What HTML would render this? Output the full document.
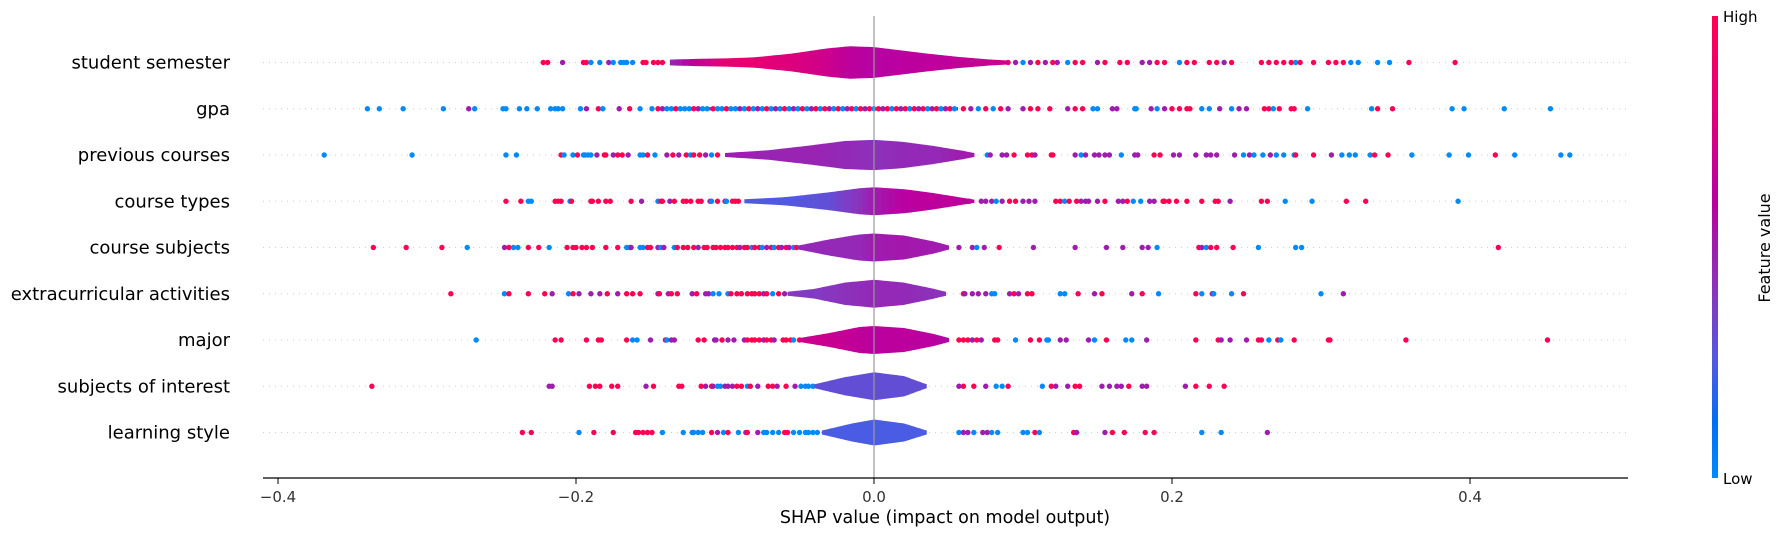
<!DOCTYPE html>
<html><head><meta charset="utf-8"><style>
html,body{margin:0;padding:0;background:#fff;}
svg{display:block;font-family:"DejaVu Sans","Liberation Sans",sans-serif;}
</style></head><body>
<svg id="chart" width="1785" height="536" viewBox="0 0 1785 536" xmlns="http://www.w3.org/2000/svg">
<defs>
<linearGradient id="cmap" x1="0" y1="1" x2="0" y2="0">
<stop offset="0" stop-color="rgb(0,138,251)"/>
<stop offset="0.12" stop-color="rgb(0,110,245)"/>
<stop offset="0.25" stop-color="rgb(80,90,225)"/>
<stop offset="0.4" stop-color="rgb(135,55,190)"/>
<stop offset="0.6" stop-color="rgb(185,0,160)"/>
<stop offset="0.8" stop-color="rgb(225,0,120)"/>
<stop offset="1" stop-color="rgb(255,0,82)"/>
</linearGradient>
</defs>
<g id="grid"></g>
<g id="dots"></g>
<g id="violins"></g>
<g id="dotsTop"></g>
<line x1="874" y1="16" x2="874" y2="478" stroke="#999" stroke-width="1.2"/>
<g id="labels"></g>
<line x1="263" y1="478" x2="1628" y2="478" stroke="#000" stroke-width="1.2"/>
<g id="xticks"></g>
<text x="945" y="523" font-size="17.5" text-anchor="middle" fill="#000">SHAP value (impact on model output)</text>
<rect x="1712" y="16" width="6" height="462" fill="url(#cmap)"/>
<text x="1723" y="22" font-size="15" fill="#000">High</text>
<text x="1723" y="484" font-size="15" fill="#000">Low</text>
<text x="1770" y="248" font-size="16" text-anchor="middle" fill="#000" transform="rotate(-90 1770 248)">Feature value</text>
</svg>
<script>
const features = ["student semester","gpa","previous courses","course types","course subjects","extracurricular activities","major","subjects of interest","learning style"];
const xTicks = [-0.4,-0.2,0.0,0.2,0.4];
const xTickLabels = ["\u22120.4","\u22120.2","0.0","0.2","0.4"];
const b=0,p=0.5,r=1;
const pts0 = [[-0.222,r],[-0.219,r],[-0.209,p],[-0.195,r],[-0.193,r],[-0.19,b],[-0.184,b],[-0.178,p],[-0.175,b],[-0.17,b],[-0.168,b],[-0.166,b],[-0.162,b],[-0.155,r],[-0.153,r],[-0.148,r],[-0.145,r],[-0.142,r],
[0.09,r],[0.095,p],[0.1,b],[0.105,p],[0.11,r],[0.115,p],[0.12,r],[0.123,p],[0.13,b],[0.135,r],[0.14,r],[0.15,p],[0.155,r],[0.165,r],[0.17,r],[0.18,p],[0.185,p],[0.19,r],[0.195,r],[0.205,b],[0.21,r],[0.215,r],[0.225,r],[0.23,r],[0.235,p],[0.24,r],[0.26,r],[0.265,r],[0.27,r],[0.275,r],[0.28,r],[0.283,b],[0.286,r],[0.295,r],[0.305,r],[0.31,r],[0.315,r],[0.32,b],[0.325,b],[0.338,b],[0.346,b],[0.359,r],[0.39,r]];
const pts1 = [[-0.34,b],[-0.332,b],[-0.316,b],[-0.289,b],[-0.272,p],[-0.268,b],[-0.249,b],[-0.247,b],[-0.238,b],[-0.233,b],[-0.226,b],[-0.217,b],[-0.214,b],[-0.212,b],[-0.209,b],[-0.197,b],[-0.193,p],[-0.185,r],[-0.182,b],[-0.171,p],[-0.164,r],[-0.157,b],[-0.149,b],
[-0.145,r],[-0.142,p],[-0.139,b],[-0.136,b],[-0.133,r],[-0.13,b],[-0.127,b],[-0.124,b],[-0.121,r],[-0.118,p],[-0.115,b],[-0.112,b],[-0.108,r],[-0.105,b],[-0.102,b],[-0.099,r],[-0.096,b],[-0.093,b],[-0.09,p],[-0.087,b],[-0.084,r],[-0.081,b],[-0.078,p],[-0.075,b],[-0.072,r],[-0.069,b],[-0.066,p],[-0.063,b],[-0.06,r],[-0.057,b],[-0.054,p],[-0.051,b],[-0.048,r],[-0.045,b],[-0.042,p],[-0.039,r],[-0.036,b],[-0.033,r],[-0.03,p],[-0.027,b],[-0.024,r],[-0.021,b],[-0.018,p],[-0.015,r],[-0.012,b],[-0.009,r],[-0.006,p],[-0.003,r],[0.0,b],[0.003,r],[0.006,p],[0.009,r],[0.012,b],[0.015,r],[0.018,p],[0.021,r],[0.024,b],[0.027,r],[0.03,p],[0.033,r],[0.036,b],[0.039,p],[0.042,r],[0.045,b],[0.048,p],[0.051,r],[0.054,b],
[0.06,r],[0.065,p],[0.07,b],[0.075,r],[0.08,b],[0.085,r],[0.09,p],[0.1,p],[0.105,r],[0.11,r],[0.118,r],[0.13,p],[0.135,r],[0.14,r],[0.147,b],[0.15,b],[0.16,p],[0.163,p],[0.175,b],[0.176,b],[0.186,p],[0.19,b],[0.195,p],[0.2,r],[0.205,r],[0.21,r],[0.212,r],[0.22,b],[0.225,b],[0.232,p],[0.24,b],[0.245,p],[0.25,p],[0.262,r],[0.265,r],[0.268,b],[0.272,r],[0.28,r],[0.282,r],[0.291,b],[0.334,b],[0.338,r],[0.348,r],[0.388,b],[0.396,b],[0.423,b],[0.454,b]];
const pts2 = [[-0.369,b],[-0.31,b],[-0.247,b],[-0.24,b],[-0.21,r],[-0.208,b],[-0.202,b],[-0.199,r],[-0.195,b],[-0.194,b],[-0.192,b],[-0.19,b],[-0.186,p],[-0.181,r],[-0.18,r],[-0.175,p],[-0.172,r],[-0.169,r],[-0.165,p],[-0.157,b],[-0.155,b],[-0.152,r],[-0.147,b],[-0.139,p],[-0.135,r],[-0.131,p],[-0.126,r],[-0.123,b],[-0.121,r],[-0.117,r],[-0.113,p],[-0.109,b],[-0.105,r],
[0.076,b],[0.078,p],[0.086,p],[0.089,p],[0.094,r],[0.103,r],[0.106,r],[0.108,p],[0.119,r],[0.12,r],[0.135,p],[0.139,b],[0.142,p],[0.148,p],[0.151,p],[0.155,p],[0.158,p],[0.166,b],[0.175,p],[0.177,p],[0.188,r],[0.192,r],[0.201,p],[0.205,p],[0.216,p],[0.223,p],[0.226,p],[0.23,p],[0.242,p],[0.248,b],[0.252,p],[0.255,b],[0.261,b],[0.266,p],[0.27,b],[0.275,b],[0.282,b],[0.283,r],[0.295,r],[0.307,p],[0.314,b],[0.319,b],[0.323,b],[0.333,b],[0.336,r],[0.345,r],[0.361,b],[0.386,b],[0.399,b],[0.417,r],[0.43,b],[0.461,b],[0.467,b]];
const pts3 = [[-0.247,r],[-0.237,r],[-0.232,b],[-0.23,b],[-0.214,r],[-0.212,r],[-0.21,r],[-0.204,b],[-0.203,r],[-0.19,r],[-0.189,r],[-0.185,r],[-0.18,r],[-0.177,r],[-0.163,r],[-0.156,p],[-0.145,b],[-0.143,r],[-0.142,r],[-0.137,p],[-0.134,r],[-0.128,r],[-0.126,r],[-0.123,r],[-0.118,r],[-0.116,r],[-0.11,p],[-0.109,b],[-0.105,r],[-0.1,r],[-0.099,b],[-0.095,r],[-0.093,r],[-0.091,r],
[0.06,p],[0.064,r],[0.072,p],[0.075,p],[0.079,p],[0.082,b],[0.086,p],[0.091,r],[0.095,r],[0.1,p],[0.104,p],[0.108,p],[0.122,r],[0.125,r],[0.128,b],[0.131,r],[0.136,r],[0.139,p],[0.142,p],[0.144,p],[0.15,p],[0.155,r],[0.164,p],[0.167,p],[0.17,r],[0.174,b],[0.179,b],[0.185,p],[0.188,p],[0.194,r],[0.195,r],[0.198,r],[0.203,r],[0.21,r],[0.22,r],[0.229,r],[0.231,r],[0.239,p],[0.26,r],[0.264,r],[0.276,b],[0.294,b],[0.317,r],[0.33,r],[0.392,b]];
const pts4 = [[-0.336,r],[-0.314,r],[-0.29,r],[-0.273,b],[-0.248,p],[-0.245,r],[-0.242,b],[-0.239,b],[-0.232,r],[-0.225,r],[-0.218,b],[-0.206,r],[-0.202,r],[-0.2,r],[-0.196,r],[-0.193,r],[-0.189,r],[-0.18,r],[-0.172,r],[-0.166,b],[-0.164,b],[-0.163,p],[-0.157,b],[-0.155,b],[-0.152,r],[-0.15,r],[-0.145,p],[-0.143,b],[-0.141,p],[-0.134,b],[-0.132,r],[-0.128,r],[-0.125,r],[-0.121,r],[-0.118,p],[-0.114,r],[-0.112,r],[-0.108,r],[-0.106,r],[-0.103,r],[-0.1,r],[-0.098,r],[-0.095,r],[-0.092,r],[-0.09,p],[-0.087,r],[-0.085,r],[-0.082,b],[-0.08,r],[-0.077,r],[-0.075,b],[-0.072,p],[-0.069,r],[-0.067,b],[-0.064,r],[-0.062,p],[-0.059,r],[-0.057,p],[-0.054,b],[-0.052,r],
[0.057,p],[0.066,p],[0.069,b],[0.074,p],[0.084,r],[0.107,p],[0.135,p],[0.156,p],[0.167,p],[0.18,p],[0.184,p],[0.19,b],[0.218,r],[0.22,p],[0.223,b],[0.226,r],[0.23,r],[0.241,r],[0.258,b],[0.283,b],[0.287,b],[0.419,r]];
const pts5 = [[-0.284,r],[-0.248,b],[-0.245,r],[-0.232,r],[-0.221,r],[-0.216,p],[-0.205,b],[-0.202,r],[-0.198,p],[-0.19,p],[-0.184,p],[-0.179,r],[-0.172,p],[-0.166,r],[-0.162,r],[-0.157,r],[-0.145,p],[-0.144,r],[-0.138,p],[-0.136,r],[-0.132,r],[-0.122,p],[-0.119,r],[-0.113,p],[-0.111,p],[-0.108,b],[-0.104,b],[-0.098,b],[-0.096,r],[-0.092,r],[-0.089,r],[-0.085,r],[-0.082,r],[-0.08,r],[-0.077,r],[-0.074,p],[-0.072,r],[-0.068,b],[-0.064,r],[-0.06,p],
[0.06,r],[0.061,p],[0.066,p],[0.07,p],[0.075,p],[0.079,b],[0.081,b],[0.091,p],[0.094,r],[0.097,p],[0.103,r],[0.106,r],[0.125,b],[0.128,b],[0.137,r],[0.148,p],[0.153,r],[0.173,p],[0.18,r],[0.191,b],[0.216,r],[0.22,b],[0.227,p],[0.228,b],[0.24,b],[0.248,r],[0.3,b],[0.315,p]];
const pts6 = [[-0.267,b],[-0.214,r],[-0.21,r],[-0.193,r],[-0.185,r],[-0.183,r],[-0.166,r],[-0.162,b],[-0.159,b],[-0.15,p],[-0.14,r],[-0.139,b],[-0.136,p],[-0.134,p],[-0.118,r],[-0.114,r],[-0.107,p],[-0.106,p],[-0.102,r],[-0.098,p],[-0.094,p],[-0.087,p],[-0.085,r],[-0.082,r],[-0.08,r],[-0.077,r],[-0.074,p],[-0.072,r],[-0.069,r],[-0.067,p],[-0.061,r],[-0.059,r],[-0.056,r],[-0.054,b],[-0.05,r],
[0.057,r],[0.06,r],[0.063,r],[0.066,p],[0.069,r],[0.072,p],[0.081,r],[0.083,r],[0.095,b],[0.105,r],[0.111,r],[0.116,b],[0.117,b],[0.125,p],[0.129,p],[0.144,p],[0.148,b],[0.156,r],[0.169,b],[0.173,b],[0.183,p],[0.216,r],[0.231,r],[0.233,p],[0.239,p],[0.25,p],[0.258,r],[0.26,r],[0.265,b],[0.271,r],[0.273,b],[0.282,r],[0.305,r],[0.306,r],[0.357,r],[0.452,r]];
const pts7 = [[-0.337,r],[-0.218,p],[-0.216,p],[-0.191,r],[-0.187,r],[-0.184,r],[-0.176,r],[-0.172,r],[-0.153,p],[-0.148,r],[-0.131,r],[-0.129,r],[-0.116,r],[-0.113,p],[-0.109,r],[-0.108,p],[-0.105,b],[-0.103,b],[-0.1,p],[-0.098,p],[-0.095,p],[-0.092,r],[-0.089,r],[-0.085,b],[-0.083,r],[-0.078,p],[-0.071,r],[-0.068,r],[-0.065,p],[-0.059,r],[-0.053,p],[-0.049,b],[-0.046,b],[-0.044,b],[-0.041,b],
[0.057,p],[0.06,r],[0.067,r],[0.075,p],[0.082,b],[0.086,b],[0.09,r],[0.113,b],[0.119,r],[0.122,p],[0.13,p],[0.135,r],[0.138,r],[0.153,p],[0.158,p],[0.163,p],[0.166,p],[0.171,r],[0.18,p],[0.183,p],[0.209,p],[0.216,r],[0.225,r],[0.235,r]];
const pts8 = [[-0.236,r],[-0.23,r],[-0.198,b],[-0.188,r],[-0.175,r],[-0.16,r],[-0.158,r],[-0.155,r],[-0.152,r],[-0.149,r],[-0.142,b],[-0.128,b],[-0.122,b],[-0.121,b],[-0.118,b],[-0.115,b],[-0.109,r],[-0.105,p],[-0.101,b],[-0.098,r],[-0.091,b],[-0.086,p],[-0.085,r],[-0.078,p],[-0.074,b],[-0.072,b],[-0.068,b],[-0.064,b],[-0.06,r],[-0.058,r],[-0.054,b],[-0.05,b],[-0.046,b],[-0.044,b],[-0.041,b],[-0.038,b],
[0.057,b],[0.06,p],[0.063,p],[0.067,b],[0.073,p],[0.076,p],[0.079,b],[0.083,b],[0.1,b],[0.103,b],[0.108,r],[0.111,b],[0.134,r],[0.136,p],[0.155,p],[0.16,r],[0.168,r],[0.182,r],[0.188,r],[0.22,b],[0.233,b],[0.264,p]];
const points = [pts0,pts1,pts2,pts3,pts4,pts5,pts6,pts7,pts8];
const dotsOnTopRows = [1];
// violin knots: shap value, relative half-width, feature colour value
const violinV = [
 [-0.137,-0.12,-0.1,-0.08,-0.055,-0.032,-0.016,0,0.013,0.035,0.057,0.075,0.09],
 [-0.146,-0.1,-0.05,0,0.03,0.056],
 [-0.1,-0.07,-0.04,-0.02,0,0.02,0.04,0.06,0.067],
 [-0.087,-0.06,-0.03,-0.01,0,0.02,0.04,0.06,0.067],
 [-0.051,-0.03,-0.01,0,0.02,0.04,0.05],
 [-0.058,-0.04,-0.02,0,0.02,0.04,0.048],
 [-0.05,-0.03,-0.01,0,0.02,0.04,0.05],
 [-0.04,-0.02,0,0.02,0.035],
 [-0.035,-0.015,0,0.02,0.035]];
const violinW = [
 [0.18,0.22,0.25,0.32,0.55,0.86,1.0,0.94,0.8,0.55,0.34,0.2,0.12],
 [0.1,0.1,0.1,0.1,0.1,0.1],
 [0.12,0.3,0.62,0.86,0.93,0.8,0.55,0.25,0.12],
 [0.12,0.25,0.55,0.8,0.86,0.74,0.5,0.2,0.1],
 [0.12,0.5,0.8,0.86,0.74,0.37,0.12],
 [0.12,0.3,0.68,0.86,0.68,0.3,0.12],
 [0.12,0.43,0.8,0.86,0.74,0.37,0.12],
 [0.12,0.55,0.86,0.62,0.12],
 [0.12,0.55,0.8,0.55,0.12]];
const violinC = [
 [0.45,0.62,0.85,0.82,0.78,0.7,0.62,0.58,0.6,0.62,0.64,0.68,0.72],
 [0.5,0.5,0.5,0.5,0.5,0.5],
 [0.5,0.47,0.47,0.45,0.42,0.45,0.45,0.5,0.5],
 [0.25,0.25,0.3,0.42,0.5,0.6,0.62,0.62,0.62],
 [0.45,0.45,0.45,0.5,0.52,0.5,0.5],
 [0.4,0.38,0.42,0.45,0.45,0.42,0.42],
 [0.7,0.68,0.63,0.6,0.62,0.6,0.55],
 [0.3,0.3,0.3,0.3,0.3],
 [0.24,0.24,0.24,0.24,0.24]];

const NS="http://www.w3.org/2000/svg";
const X0=874, XS=1490, ROW0=62.5, ROWSTEP=46.25, HMAX=16.3;
function xScale(v){return X0+v*XS;}
function yRow(i){return ROW0+i*ROWSTEP;}
const stops=[[0,[0,138,251]],[0.12,[0,110,245]],[0.25,[80,90,225]],[0.4,[135,55,190]],[0.6,[185,0,160]],[0.8,[225,0,120]],[1,[255,0,82]]];
function cmap(t){t=Math.max(0,Math.min(1,t));for(let k=1;k<stops.length;k++){if(t<=stops[k][0]){const a=stops[k-1],c=stops[k];const f=(t-a[0])/(c[0]-a[0]);const m=[0,1,2].map(j=>Math.round(a[1][j]+(c[1][j]-a[1][j])*f));return `rgb(${m[0]},${m[1]},${m[2]})`;}}return "rgb(255,0,82)";}
function mk(tag,attrs,parent){const e=document.createElementNS(NS,tag);for(const k in attrs)e.setAttribute(k,attrs[k]);parent.appendChild(e);return e;}
const gGrid=document.getElementById('grid'),gDots=document.getElementById('dots'),gTop=document.getElementById('dotsTop'),gV=document.getElementById('violins'),gL=document.getElementById('labels'),gT=document.getElementById('xticks');
features.forEach((f,i)=>{
  const y=yRow(i);
  const gl=mk('line',{x1:263,x2:1628,y1:y,y2:y,stroke:'#ccc','stroke-width':1,'stroke-dasharray':'1 5'},gGrid);
  
  
  const t=mk('text',{x:230,y:y+6,'font-size':18,'text-anchor':'end',fill:'#000'},gL);
  t.textContent=f;
  
  
  const target = dotsOnTopRows.indexOf(i)>=0 ? gTop : gDots;
  points[i].forEach(pt=>{
    const c=mk('circle',{cx:xScale(pt[0]),cy:y,r:2.7,fill:cmap(pt[1])},target);
    
    
  });
  const vv=violinV[i],ww=violinW[i],cc=violinC[i];
  for(let k=0;k<vv.length-1;k++){
    const n=4;
    for(let s=0;s<n;s++){
      const f0=s/n,f1=(s+1)/n;
      const va=vv[k]+(vv[k+1]-vv[k])*f0,vb=vv[k]+(vv[k+1]-vv[k])*f1;
      const wa=(ww[k]+(ww[k+1]-ww[k])*f0)*HMAX,wb=(ww[k]+(ww[k+1]-ww[k])*f1)*HMAX;
      const col=cmap(cc[k]+(cc[k+1]-cc[k])*(f0+f1)/2);
      const xa=xScale(va),xb=xScale(vb)+0.6;
      const poly=mk('polygon',{points:`${xa},${y-wa} ${xb},${y-wb} ${xb},${y+wb} ${xa},${y+wa}`,fill:col},gV);
      
      
    }
  }
});
xTicks.forEach((v,i)=>{
  const x=xScale(v);
  const tk=mk('line',{x1:x,x2:x,y1:478,y2:484,stroke:'#000','stroke-width':1},gT);
  
  
  const t=mk('text',{x:x,y:502,'font-size':15,'text-anchor':'middle',fill:'#333'},gT);
  t.textContent=xTickLabels[i];
  
  
});
</script>
</body></html>
